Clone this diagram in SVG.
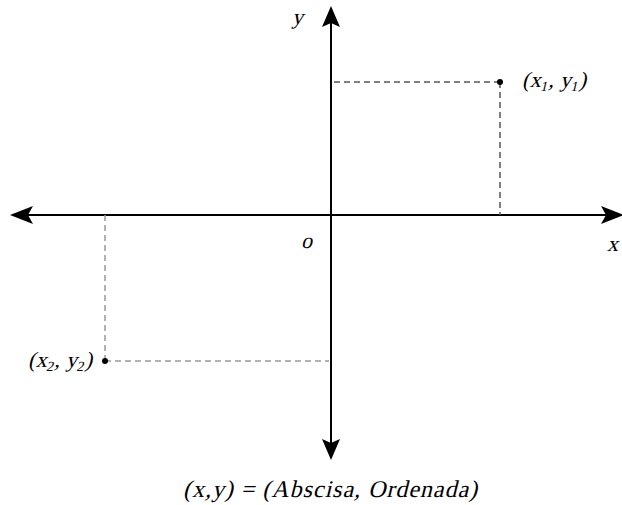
<svg xmlns="http://www.w3.org/2000/svg" width="622" height="505" viewBox="0 0 622 505">
<style>
.t{font-family:"Liberation Serif","Times New Roman",serif;font-size:22px;fill:#000}
.s{font-size:14px}
.c{font-size:24px}
.axis{stroke:#000;stroke-width:2;fill:none}
.dash1{stroke:#555;stroke-width:1.5;stroke-dasharray:6,4;fill:none}
.dash2{stroke:#999;stroke-width:1.5;stroke-dasharray:6,4;fill:none}
.head{fill:#000}
</style>
<g id="connectors">
<line class="axis" x1="331" y1="20" x2="331" y2="447"/>
<line class="axis" x1="24" y1="215" x2="610" y2="215"/>
<path class="head" d="M331,6 L340,27 L331,23 L322,27 Z"/>
<path class="head" d="M331,460 L340,439 L331,443 L322,439 Z"/>
<path class="head" d="M10,215 L33,206 L28,215 L33,224 Z"/>
<path class="head" d="M624,215 L601,206 L606,215 L601,224 Z"/>
<line class="dash1" x1="334" y1="82" x2="500" y2="82"/>
<line class="dash1" x1="500" y1="82" x2="500" y2="215"/>
<line class="dash2" x1="105" y1="215" x2="105" y2="361"/>
<line class="dash2" x1="105" y1="361" x2="329" y2="361"/>
</g>
<g id="p1">
<circle cx="500" cy="82" r="3" fill="#000"/>
<text class="t" transform="translate(522,87) skewX(-14)" x="0" y="0" textLength="64" lengthAdjust="spacing">(x<tspan class="s" dy="4">1</tspan><tspan dy="-4">, y</tspan><tspan class="s" dy="4">1</tspan><tspan dy="-4">)</tspan></text>
</g>
<g id="p2">
<circle cx="105" cy="361" r="3" fill="#000"/>
<text class="t" transform="translate(28,367) skewX(-14)" x="0" y="0" textLength="64" lengthAdjust="spacing">(x<tspan class="s" dy="4">2</tspan><tspan dy="-4">, y</tspan><tspan class="s" dy="4">2</tspan><tspan dy="-4">)</tspan></text>
</g>
<g id="labels">
<text class="t" transform="translate(292,24) skewX(-14)" x="0" y="0">y</text>
<text class="t" transform="translate(607,251) skewX(-14)" x="0" y="0">x</text>
<text class="t" transform="translate(301,248) skewX(-14)" x="0" y="0">o</text>
<text class="t c" transform="translate(183,497) skewX(-14)" x="0" y="0" textLength="294" lengthAdjust="spacing">(x,y) = (Abscisa, Ordenada)</text>
</g>
</svg>
